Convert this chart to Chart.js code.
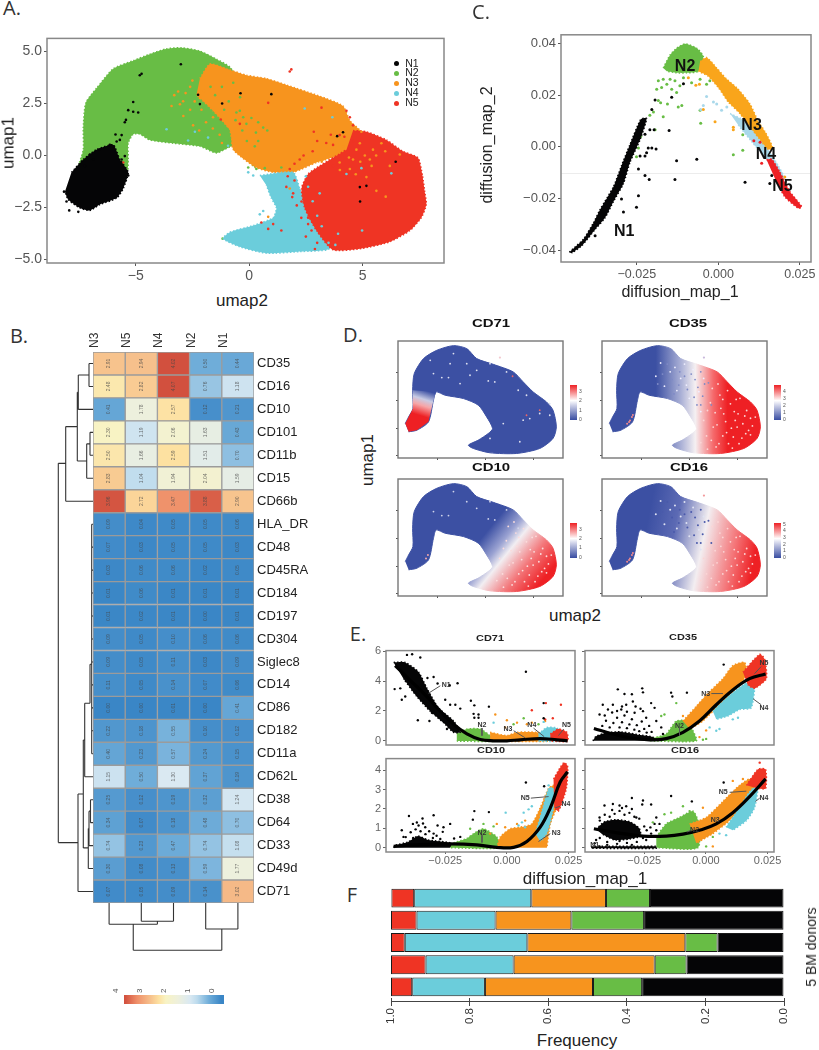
<!DOCTYPE html>
<html>
<head>
<meta charset="utf-8">
<style>
  html, body { margin: 0; padding: 0; background: #fff; }
  #page { position: relative; width: 819px; height: 1050px; overflow: hidden; }
  #page canvas { position: absolute; }
  .txt { position: absolute; white-space: nowrap; font-family: "Liberation Sans", sans-serif; color: #222; line-height: 1; }
  .dot { position: absolute; width: 5px; height: 5px; border-radius: 50%; }
</style>
<script src="https://cdn.jsdelivr.net/npm/chart.js@4"></script>
</head>
<body>
<div id="page"></div>
<script>
const BLACK = '#050506', GREEN = '#68bd45', ORANGE = '#f7941e', CYAN = '#6bcddb', RED = '#ef3424';
const clusterNames = ['N1', 'N2', 'N3', 'N4', 'N5'];

// ---- panel A: umap, cluster outlines and stray cells
const umapGreen = [[-7.53,-0.5],[-7.31,0.28],[-7.31,1.37],[-7.2,2.53],[-6.73,3.23],[-5.99,4.17],[-5.11,4.56],[-4.38,4.87],[-3.64,5.13],[-2.98,5.18],[-2.17,5.02],[-1.44,4.63],[-0.85,4.25],[0.2,2.5],[-0.1,1],[0.3,-0.6],[-0.7,0.44],[-1.44,0.12],[-2.17,0.44],[-3.35,0.59],[-4.38,0.75],[-4.82,1.03],[-5.11,1.03],[-5.33,0.59],[-5.33,-0.19],[-5.4,-0.81],[-6.5,-1]];
const umapOrange = [[-2.17,3.7],[-1.73,4.4],[-1,4.17],[-0.12,3.86],[0.76,3.7],[1.64,3.39],[3.11,2.85],[4.14,2.38],[4.44,1.68],[5.02,1.06],[5.17,0.44],[2.97,-0.34],[1.94,-0.81],[1.06,-0.81],[0.32,-0.58],[-0.7,0.28],[-0.85,1.21],[-1.59,2.15],[-2.32,2.92]];
const umapCyan = [[0.47,-0.96],[1.94,-0.81],[2.23,-1.59],[2.67,-2.83],[3.55,-4.46],[2.23,-4.62],[0.76,-4.7],[-0.41,-4.39],[-1.15,-4],[-0.85,-3.69],[0.18,-3.37],[1.06,-2.99],[1.2,-2.52],[0.98,-2.05],[0.76,-1.43]];
const umapRed = [[4.58,1.2],[5.17,1.14],[6.05,0.75],[6.78,0.2],[7.44,-0.11],[7.64,-0.96],[7.74,-1.74],[7.81,-2.36],[7.59,-2.99],[7.08,-3.61],[6.2,-4.15],[5.02,-4.46],[3.7,-4.54],[2.97,-3.61],[2.45,-2.52],[2.31,-1.59],[2.6,-0.89],[3.11,-0.5],[4.29,0.28]];
const umapBlack = [[-7.83,-0.81],[-7.31,-0.19],[-6.73,0.28],[-5.99,0.51],[-5.7,-0.19],[-5.33,-0.81],[-5.55,-1.59],[-5.84,-2.05],[-6.58,-2.36],[-7.02,-2.64],[-7.46,-2.52],[-7.97,-2.13],[-8.12,-1.74]];
const umapBlackDots = [[-3.01,4.39],[-4.74,3.93],[-4.82,3.86],[-5.11,2.57],[-5.33,2.18],[-5.11,2.1],[-4.89,2.07],[-5.43,1.71],[-5.48,1.6],[-5.62,0.98],[-5.89,1.01],[-2.25,2.92],[-2.17,2.47],[-1.19,2.5],[-0.38,2.99],[0.98,2.95],[3.88,0.93],[4.14,1.12],[6.46,-0.3],[4.88,-1.52],[5.17,-1.46],[4.89,-2.21],[-7.93,-2.64],[-7.53,-2.71],[-8.16,-1.74],[-8.05,-2.21],[-7.02,0.05],[-6.58,0.28],[-6.14,0.51],[-5.84,0.67],[-5.7,0.75],[-5.99,0.44],[-5.48,-0.03],[-6.87,-0.19],[-7.24,-0.5],[-5.4,-0.81],[-5.33,-0.96],[-5.62,-0.19]];
const umapRedDots = [[1.86,4.14],[1.79,4.04],[-0.41,1.52],[-1.25,1.73],[2.85,1.14],[0.84,-3.53],[1.06,-3.3],[0.54,-3.22],[1.42,-3.61],[-5.55,-0.34],[-5.55,-1.28],[-5.84,-1.82],[-5.82,-1.59],[0.84,2.53],[3.19,2.3],[1.64,-1.51],[1.94,-1.82],[2.31,-2.21],[2.6,-2.99],[2.75,-3.61],[3.7,0.51],[3.99,0.98],[4.29,2.15],[4.44,1.84],[4.58,1.45],[4.8,1.14],[3.7,-0.5],[2.23,-0.19],[1.79,-0.65],[3.4,0.6],[2.8,0.2],[2.4,0],[2,-0.4],[3,0.7],[4.2,0.9],[4.6,0.7],[3.6,1],[2,-1.2],[1.7,-1],[2.1,-2.4],[2.3,-3],[2.6,-3.3],[3,-4.2],[2.9,-4.5],[2.5,-3.9],[1.9,-2]];
const umapCyanDots = [[-3.64,1.26],[-2.69,0.72],[-2.39,1.14],[-1.81,0.86],[-0.93,0.47],[4.98,-3.61],[4.95,-0.61],[4.29,-0.89],[6.27,-0.86],[3.11,-1.82],[2.45,2.26],[3.67,1.84],[0.62,-2.67],[0.47,-2.83],[3.92,-3.76],[0.18,-0.96],[-0.04,-0.81],[2.6,-1.5],[2.8,-2.2],[3,-2.9],[3.2,-3.4],[3.5,-4.2],[3.8,-4.3],[2.5,-1]];
const umapGreenDots = [[-0.19,-3.58],[-1.17,-4],[-6.7,-0.5],[-0.41,2.15],[-0.56,2.07],[0.25,0.44],[0.4,1.6],[0.62,1.34],[-0.12,1.52],[-0.26,1.84],[-0.04,-0.58],[0.32,-0.65],[0.69,-0.61],[1.42,-0.58],[-0.85,0.75],[-0.93,1.21],[-0.7,3.5],[-1.2,3.3],[-1.5,2.9],[-0.9,2.6],[-1.1,2.2],[-0.6,1.7],[-0.3,1.2],[0.1,1.8],[0.3,1.1],[0.4,0.7],[-0.1,0.7],[0.8,1.2],[-1.7,3.3],[-0.4,2.8]];
const umapOrangeDots = [[-2.47,1.45],[-3.13,3.08],[-2.91,2.61],[-3.42,2.38],[-1.59,1.84],[5.61,-1.7],[6.02,-1.98],[5.17,-1.04],[4.58,-0.19],[3.99,-0.34],[4.44,-0.65],[0.84,-2.95],[1.79,-1.59],[4.14,0.44],[4.73,0.28],[2.53,-0.19],[3.26,-0.19],[5.32,-0.19],[5.46,0.28],[5.83,0.59],[6.64,0.05],[-2.17,2.77],[4.95,1.14],[4.88,0.59],[-3.05,2.46],[-2.6,3.3],[-2.8,3],[-3.3,2.9],[-2.6,2.2],[-2.9,1.9],[-2.1,2.2],[-1.9,1.6],[-2.2,1.2],[-1.6,1.3],[-1.3,1],[-1.2,0.6],[-2.4,2.6],[-2,3.1],[-2.5,3.6],[3.5,0.1],[3.9,0.2],[4.4,-0.1],[4.9,-0.3],[5.4,-0.5],[3.2,-0.3],[5.6,0],[6,0.2],[4.7,-0.9],[5.1,0],[6.2,-0.5],[4,-0.7]];

// ---- panel C: diffusion map
const dmBlack = [[-0.0457,-0.0407],[-0.0414,-0.0357],[-0.0383,-0.0294],[-0.0363,-0.0243],[-0.0322,-0.0155],[-0.0297,-0.0073],[-0.0271,0.0009],[-0.0238,0.0106],[-0.022,0.011],[-0.024,0.0028],[-0.0271,-0.006],[-0.0291,-0.0142],[-0.0322,-0.0212],[-0.0348,-0.0275],[-0.0378,-0.0319],[-0.0419,-0.0382],[-0.045,-0.0411]];
const dmBlackDots = [[-0.0107,0.0244],[-0.0143,0.0192],[-0.0194,0.0181],[-0.0204,0.0144],[-0.0151,0.0063],[-0.021,0.0066],[-0.0197,0.0066],[-0.0225,0.0049],[-0.0215,-0.0004],[-0.0204,-0.0004],[-0.0191,-0.0008],[-0.022,-0.0023],[-0.024,-0.0035],[-0.0225,-0.0035],[-0.0128,-0.0054],[-0.0066,-0.0048],[-0.0245,-0.0086],[-0.0225,-0.0111],[-0.0212,-0.0126],[-0.0133,-0.0126],[-0.0245,-0.0189],[-0.0297,-0.0202],[-0.0251,-0.0233],[-0.0291,-0.0252],[0.0082,-0.0137],[0.0158,-0.0142],[0.0164,-0.0111],[-0.0378,-0.0344],[-0.0312,-0.0174]];
const dmGreen = [[-0.0169,0.0305],[-0.0148,0.0355],[-0.0128,0.0381],[-0.0102,0.0398],[-0.0066,0.0381],[-0.0046,0.0349],[-0.0061,0.0292],[-0.0097,0.0286],[-0.0128,0.0286],[-0.0158,0.0292]];
const dmGreenDots = [[-0.0184,0.0255],[-0.0169,0.0261],[-0.0174,0.0229],[-0.0189,0.0223],[-0.0158,0.0242],[-0.0143,0.0223],[-0.0128,0.021],[-0.0118,0.0236],[-0.0148,0.0261],[-0.0133,0.0255],[-0.0107,0.0267],[-0.0082,0.0248],[-0.0056,0.0261],[-0.0036,0.0242],[-0.0026,0.0255],[-0.0156,0.0166],[-0.0112,0.016],[-0.0123,0.0154],[-0.0169,0.0116],[-0.0194,0.0066],[-0.021,0.0122],[-0.0199,0.0135],[-0.0184,0.0179],[-0.0177,0.017],[-0.0054,0.0091],[-0.0056,0.0141],[0.0075,0.0047],[0.0075,-0.0013],[0.0046,-0.0031],[-0.0245,-0.0004],[-0.0251,-0.0038],[-0.0274,-0.0033],[-0.0266,0.0015],[-0.0238,0.004],[-0.0317,-0.0159]];
const dmOrange = [[-0.0056,0.033],[-0.0036,0.0345],[-0.0005,0.0305],[0.0026,0.0261],[0.0056,0.0229],[0.0097,0.0166],[0.0123,0.0097],[0.0143,0.0059],[0.0167,-0.0004],[0.0153,-0.001],[0.0128,0.0028],[0.0097,0.0078],[0.0066,0.0129],[0.0031,0.0173],[0,0.0229],[-0.0031,0.0273],[-0.0061,0.0292]];
const dmOrangeDots = [[-0.0092,0.0267],[-0.0069,0.0238],[-0.0058,0.0242],[-0.0046,0.0144],[-0.001,0.0097],[0.0046,0.0066],[0.0046,0.0076],[0.0204,-0.0117]];
const dmCyan = [[0.0036,0.0129],[0.0077,0.0103],[0.0118,0.0053],[0.0153,-0.001],[0.0184,-0.0073],[0.0204,-0.0123],[0.0184,-0.0111],[0.0148,-0.0048],[0.0102,0.0021],[0.0061,0.0084]];
const dmCyanDots = [[-0.0036,0.0195],[-0.0046,0.016],[-0.0015,0.0173],[-0.0005,0.0166],[0.0026,0.0154],[0.0031,0.0179],[-0.0054,0.0144],[0.001,0.0141]];
const dmRed = [[0.0148,-0.005],[0.0164,-0.0048],[0.0189,-0.0098],[0.022,-0.0174],[0.0256,-0.0231],[0.0245,-0.0237],[0.0204,-0.0193],[0.0174,-0.0123]];
const dmRedDots = [[0.0109,0.0024],[0.0128,0.0018],[0.0133,-0.0063]];
const dmLabels = [[-0.0289,-0.0329,'N1'],[-0.0102,0.0311,'N2'],[0.0102,0.0082,'N3'],[0.0146,-0.0029,'N4'],[0.0197,-0.0152,'N5']];
const dmGuide = [[-0.0483,-0.0103],[0.0284,-0.0103]];

// ---- panel B: heatmap
const heatCols = ['N3', 'N5', 'N4', 'N2', 'N1'];
const heatRows = ['CD35','CD16','CD10','CD101','CD11b','CD15','CD66b','HLA_DR','CD48','CD45RA','CD184','CD197','CD304','Siglec8','CD14','CD86','CD182','CD11a','CD62L','CD38','CD64','CD33','CD49d','CD71'];
const heatValues = [
  [2.91,2.94,4.02,0.50,0.44],[2.48,2.82,4.07,0.76,1.18],[0.41,1.78,2.57,0.12,0.21],[2.30,1.19,2.06,1.63,0.43],
  [2.50,1.66,2.59,1.51,0.70],[2.83,1.04,1.94,2.04,1.59],[3.96,2.72,3.47,3.88,2.90],[0.09,0.04,0.05,0.05,0.06],
  [0.07,0.03,0.05,0.05,0.03],[0.03,0.06,0.06,0.02,0.05],[0.01,0.06,0.01,0.01,0.01],[0.01,0.02,0.01,0.00,0.01],
  [0.09,0.05,0.10,0.06,0.06],[0.09,0.05,0.11,0.03,0.09],[0.11,0.05,0.14,0.07,0.06],[0.00,0.00,0.01,0.00,0.41],
  [0.22,0.18,0.55,0.10,0.12],[0.40,0.23,0.57,0.24,0.15],[1.15,0.50,1.30,0.37,0.19],[0.25,0.12,0.19,0.32,1.24],
  [0.34,0.07,0.18,0.48,0.70],[0.74,0.23,0.47,0.74,1.08],[0.30,0.08,0.13,0.59,1.77],[0.07,0.05,0.09,0.14,3.02]
];
const heatStops = [[0,[58,134,198]],[0.5,[111,173,217]],[1,[189,219,237]],[1.3,[218,233,242]],[1.8,[238,240,220]],[2.3,[248,243,196]],[2.6,[253,224,160]],[2.9,[247,196,142]],[3.5,[239,143,105]],[4,[210,80,62]]];
const heatLegendTicks = [4, 3, 2, 1, 0];
const rowTree = [[0,0.5,4,0.5],[0,1.5,4,1.5],[4,0.5,4,1.5],[4,1,14.7,1],[0,2.5,14.7,2.5],[14.7,1,14.7,2.5],[0,3.5,3,3.5],[0,4.5,3,4.5],[3,3.5,3,4.5],[3,4,6.3,4],[0,5.5,6.3,5.5],[6.3,4,6.3,5.5],[14.7,1.75,15.7,1.75],[6.3,4.75,15.7,4.75],[15.7,1.75,15.7,4.75],[15.7,3.25,27.3,3.25],[0,6.5,27.3,6.5],[27.3,3.25,27.3,6.5],[27.3,4.85,34.7,4.85],
  [1.3,7.5,1.3,17.5],[0,7.5,1.3,7.5],[0,8.5,1.3,8.5],[0,9.5,1.3,9.5],[0,10.5,1.3,10.5],[0,11.5,1.3,11.5],[0,12.5,1.3,12.5],[0,13.5,1.3,13.5],[0,14.5,1.3,14.5],[0,15.5,1.3,15.5],[0,16.5,1.3,16.5],[0,17.5,1.3,17.5],[1.3,13.6,3,13.6],[3,13.6,3,15.3],[3,15.3,8.3,15.3],[0,18.5,8.3,18.5],[8.3,15.3,8.3,18.5],[8.3,16.9,9.7,16.9],
  [0,19.5,2.5,19.5],[0,20.5,2.5,20.5],[2.5,19.5,2.5,20.5],[2.5,20,4,20],[0,21.5,4,21.5],[4,20,4,21.5],[4,20.75,4.7,20.75],[0,22.5,4.7,22.5],[4.7,20.75,4.7,22.5],[4.7,21.6,9.7,21.6],[9.7,16.9,9.7,21.6],[9.7,19.25,15,19.25],[0,23.5,15,23.5],[15,19.25,15,23.5],[15,21.37,34.7,21.37],[34.7,4.85,34.7,21.37]];
const colTree = [[0.5,0,0.5,21.3],[1.5,0,1.5,18.3],[2.5,0,2.5,18.3],[1.5,18.3,2.5,18.3],[2,18.3,2,21.3],[0.5,21.3,2,21.3],[3.5,0,3.5,26],[4.5,0,4.5,26],[3.5,26,4.5,26],[1.25,21.3,1.25,47.3],[4,26,4,47.3],[1.25,47.3,4,47.3]];

// ---- panel D: marker expression on the umap
const shapeOutline = [[-8.37,-2.08],[-8.02,-1.48],[-7.57,-0.72],[-7.6,0.93],[-7.43,2.44],[-6.46,3.8],[-5.07,4.55],[-3.33,4.97],[-1.94,4.7],[-0.9,3.8],[0.83,3.28],[2.92,2.59],[3.96,1.69],[5,0.78],[6.39,-0.12],[7.08,-0.87],[7.43,-2.38],[7.08,-3.43],[5.69,-4.34],[3.26,-4.79],[0.49,-4.73],[-1.25,-4.34],[-1.77,-4.04],[-0.73,-3.58],[0.31,-2.98],[0.76,-2.53],[0.14,-1.48],[-0.73,-0.42],[-2.29,0.18],[-4.2,0.48],[-5.14,0.78],[-5.42,0.03],[-5.94,-1.93],[-7.15,-2.68],[-8.02,-2.83]];
const tailOutline = [[-7.6,0.93],[-5.14,0.78],[-5.42,0.03],[-5.94,-1.93],[-7.15,-2.68],[-8.02,-2.83],[-8.37,-2.08],[-8.02,-1.48],[-7.57,-0.72]];
const blueZoneSpecks = [[-3.33,4.25],[-5.42,2.44],[-4.55,2.08],[-3.85,2.08],[-1.94,3.34],[-0.9,2.74],[0.49,3.34],[0.31,1.78],[0.99,1.69],[2.22,2.59],[3.44,0.93],[4.31,0.48],[5.69,-1.17],[4.65,-1.63],[3.96,-1.78],[6.74,-0.27],[6.74,-1.33],[1.88,-2.08],[3.61,-3.73],[0.49,-3.43],[-2.64,1.54],[-5.76,3.64],[-3.68,3.34],[-1.6,2.29]];
const redZoneSpecks = [[3.2,0.5],[4.3,-0.3],[5.1,-1.2],[6,-0.9],[4.4,-2.5],[5.5,-3.4],[3.5,-3.2],[6.6,-2.3],[2.7,-1.1],[3.8,-1.9],[2.3,-3.6],[1.9,-0.9],[4.9,0.1],[3,1.5],[5.6,-2.1],[4.1,-3.9],[2.8,-4.2],[6.9,-1.5],[2.4,1.1],[3.3,-0.7],[5.3,0.2],[6.4,-1.6],[4.7,-1],[3.5,0.1],[2.9,-2.2],[3.1,-3.9],[4.6,-3.3],[5.9,-3],[6.4,-3.1],[5,-2.4],[3.9,-2.9],[2.5,-2.4],[1.5,-1.8],[1.8,-3.2],[1.2,-3.8],[1.9,-4.4],[4.5,-4.3],[5.2,-3.9],[4,0.9],[3.6,-1.2],[2.2,-0.2],[5.8,-1.4],[4.8,-1.8],[6.2,-2.7]];
const midZoneSpecks = [[-1.5,3],[-0.9,2],[-2,2.6],[-0.3,1.4],[-2.6,1.3],[-1.3,0.9],[0.4,2.8],[1,0.8],[0,0.2],[1.2,-1],[-3,3.4],[-3.5,2.2],[-0.5,3.3],[1.5,2]];
const midBlueSpecks = [[-1,2.6],[-0.5,2.2],[-1.8,1.9],[0.2,2.4],[0.6,1.9],[-0.2,1],[-1.1,1.4],[0.9,1.2],[1.2,2.6],[1.6,1.5],[0.5,0.3],[1.4,0.4],[1.2,-0.4],[-2.3,3.3],[-2.8,2.4],[-3.3,1.5],[-1.6,0.6],[0.8,-0.4],[2,1.6],[2.3,-0.4]];
const tailPink = [[-6,-1.5],[-6.2,-1.8],[-6.5,-2.1],[-5.9,-1.3],[-6.3,-1.95]];
const cd71RedSpecks = [[2.85,2.2],[4.31,-1.33],[5.69,-0.87]];
const paleOutlier = [[1.53,3.89]];
const cdTicksX = [-5, 0, 5], cdTicksY = [-5, -2.5, 0, 2.5];
const BLUE_LOW = '#3c50a3', RED_HIGH = '#ee2024';
const cd35Ramp = [[0,BLUE_LOW],[0.35,'#aab0d6'],[0.55,'#f5f0f2'],[0.8,'#f56a6c'],[1,RED_HIGH]];
const cd10Ramp = [[0,BLUE_LOW],[0.25,'#9aa2d2'],[0.4,'#f2eef2'],[0.7,'#f3777a'],[1,RED_HIGH]];
const cd16Ramp = [[0,BLUE_LOW],[0.25,'#5c6ab4'],[0.52,'#f3eef1'],[0.8,'#f4777a'],[1,RED_HIGH]];
const tailRamp = [[0,BLUE_LOW],[0.35,'#c8cbe4'],[0.6,'#f6a6a8'],[1,RED_HIGH]];
const barRamp = [[0,BLUE_LOW],[0.4,'#c9cde6'],[0.55,'#ffffff'],[1,RED_HIGH]];
const cd71BarTicks = [0,1,2,3], cd35BarTicks = [0,1,2,3,4], cd10BarTicks = [0,1,2,3], cd16BarTicks = [0,1,2,3,4,5];

// ---- panel E: marker along diffusion_map_1
const e71Black = [[-0.0459,5.26],[-0.0412,5.26],[-0.0358,4.61],[-0.0324,3.52],[-0.0277,2.21],[-0.0216,1.33],[-0.0189,0.57],[-0.0216,0.57],[-0.0257,1.22],[-0.0311,1.99],[-0.0365,2.97],[-0.0419,4.17]];
const e71BlackDots = [[-0.0405,5.76],[-0.0384,5.81],[-0.0351,5.59],[-0.0455,3.47],[-0.0432,3.52],[-0.0412,2.97],[-0.0426,2.75],[-0.0351,3.73],[-0.0322,4.21],[-0.0297,4.28],[-0.0281,3.84],[-0.02,3.86],[-0.0232,3.73],[-0.025,2.75],[-0.023,2.42],[-0.0209,2.42],[-0.0189,2.16],[-0.0361,1.38],[-0.0314,1.33],[-0.0304,1.88],[-0.0146,2.69],[-0.0132,2.38],[-0.0073,2.29],[-0.0135,1.81],[-0.0115,1.77],[-0.0132,1.55],[-0.0115,1.55],[0.0077,4.63],[0.0149,2.53],[0.0149,1.51],[-0.0243,0.79],[-0.0203,0.79]];
const e71Green = [[-0.0203,0.46],[-0.0162,0.79],[-0.0108,0.79],[-0.0068,0.35],[-0.0041,-0.02],[-0.0203,-0.02]];
const e71GreenDots = [[0.0068,1.51],[0.0027,1.11],[0.0128,1.11]];
const e71Orange = [[-0.0068,0.57],[0,0.35],[0.0041,0.57],[0.0122,0.57],[0.0176,0.35],[0.0176,-0.02],[-0.0068,-0.02]];
const e71OrangeDots = [[-0.0047,1.77],[0,1.38],[0.0041,1.22],[0.0081,1.11],[0.0101,1.22],[0.0155,1.33],[-0.0007,0.9]];
const e71Cyan = [[0.0128,0.46],[0.0162,0.9],[0.0203,0.85],[0.0216,0.35],[0.0203,-0.02],[0.0128,-0.02]];
const e71CyanDots = [[-0.0054,1.22],[0.0149,1.27]];
const e71Red = [[0.0176,0.46],[0.0209,0.79],[0.0243,0.57],[0.0246,-0.02],[0.0176,-0.02]];
const e71RedDots = [[0.0101,2.05],[0.0158,2.53],[0.0219,2.42],[0.0155,1.44],[0.0186,1.51]];
const e71Curve = [[-0.0453,5.04],[-0.0392,4.06],[-0.0331,3.08],[-0.027,1.99],[-0.0216,1.11],[-0.0162,0.46],[-0.0108,0.09],[-0.0054,0],[0,0],[0.0054,0.07],[0.0135,0.15],[0.0203,0.07],[0.0246,0]];
const e71Notes = [[-0.0246,3.73,'N1'],[-0.0101,1.05,'N2'],[0.0004,0.81,'N3'],[0.0101,1.05,'N4'],[0.0241,1.05,'N5']];
const e71Arrows = [[-0.027,3.69,-0.0318,3.19],[-0.0101,0.85,-0.0101,0.35],[0.0027,0.68,0.0074,0.2],[0.0108,0.85,0.0151,0.28],[0.023,0.79,0.0209,0.35]];

const e35Black = [[-0.0458,0],[-0.0445,0.3],[-0.04,0.55],[-0.034,0.6],[-0.027,0.4],[-0.0215,0.25],[-0.0195,0]];
const e35BlackDots = [[-0.0357,3.45],[-0.033,3.14],[-0.03,3.12],[-0.0258,3.52],[-0.0255,3.25],[-0.0222,2.53],[-0.0296,2.64],[-0.0323,2.42],[-0.0377,2.42],[-0.0418,2.42],[-0.0141,3.23],[-0.0136,2.97],[-0.0077,3.23],[0.0072,5.11],[-0.0208,2.21],[-0.0255,1.99],[-0.0343,2.1],[-0.0397,2.1],[-0.0431,1.77],[-0.0201,1.33],[-0.0181,0.9],[-0.0174,0.46],[-0.0242,1.55],[-0.0289,1.88],[-0.042,1],[-0.0405,1.35],[-0.039,0.9],[-0.0375,1.2],[-0.036,1.55],[-0.035,0.9],[-0.034,1.25],[-0.033,1.7],[-0.032,0.85],[-0.031,1.1],[-0.03,1.45],[-0.029,0.75],[-0.028,1.05],[-0.027,0.65],[-0.026,1.3],[-0.025,0.8],[-0.024,0.55],[-0.023,1],[-0.022,0.6],[-0.038,1.9],[-0.036,2],[-0.034,2.3],[-0.041,1.7],[-0.032,1.95],[-0.0285,2.3],[-0.0265,2.15]];
const e35Green = [[-0.0228,0.13],[-0.0161,0.46],[-0.012,1.33],[-0.0073,1.33],[-0.0059,0.9],[-0.0039,0],[-0.0228,0]];
const e35GreenDots = [[-0.0181,1.66],[-0.0168,1.77],[-0.012,2.53],[-0.0012,0.07],[0.0001,0.13]];
const e35Orange = [[-0.0093,1.33],[-0.0039,2.31],[0.0015,3.3],[0.0069,4.17],[0.0109,5.04],[0.0157,5.26],[0.0164,4.39],[0.0109,3.3],[0.0042,2.21],[-0.0012,1.33],[-0.0066,0.79]];
const e35OrangeDots = [[-0.0026,0.25],[-0.0093,1.66],[0.0001,0.7],[0.0135,5.1]];
const e35Cyan = [[0.0028,1.99],[0.0082,2.86],[0.015,3.73],[0.0197,4.06],[0.0184,2.21],[0.0136,2.1],[0.0089,1.66],[0.0042,1.44]];
const e35CyanDots = [[0.0042,0.68],[0.0055,0.79],[0.0109,1.44],[0.013,1.55],[0.0015,0.9]];
const e35Red = [[0.015,4.61],[0.0218,5.81],[0.0238,5.48],[0.0245,4.17],[0.0197,3.52],[0.017,3.73]];
const e35Curve = [[-0.0454,0.83],[-0.0377,0.46],[-0.0296,0.17],[-0.0228,0.07],[-0.0161,0.15],[-0.0093,0.57],[-0.0026,1.33],[0.0042,2.42],[0.0109,3.41],[0.0177,4.17],[0.0242,4.48]];
const e35Notes = [[-0.0001,3.14,'N3'],[0.0235,2.21,'N4'],[0.0235,5.2,'N5'],[-0.0107,1,'N2']];
const e35Arrows = [[0.0022,3.17,0.0069,3.17],[0.0224,2.42,0.0191,2.82],[0.0224,4.98,0.0197,4.5],[-0.0107,0.85,-0.0107,0.35]];

const e10Black = [[-0.0459,0],[-0.0453,0.12],[-0.04,0.3],[-0.036,0.6],[-0.032,0.4],[-0.023,0.25],[-0.023,0]];
const e10BlackDots = [[-0.0397,1.64],[-0.0342,1.51],[-0.0297,1.68],[-0.0381,1.23],[-0.0331,1.06],[-0.0358,1.15],[-0.0419,0.56],[-0.0426,0.9],[-0.0257,1.06],[-0.023,1.23],[-0.0281,1.15],[-0.0297,0.73],[-0.0189,0.56],[-0.0214,0.48],[-0.0132,1.89],[-0.0073,1.84],[-0.0138,1.45],[0.0077,3.37],[0.0151,3.17],[-0.041,0.55],[-0.039,0.8],[-0.037,0.95],[-0.035,0.85],[-0.034,1.25],[-0.033,0.7],[-0.0315,0.85],[-0.03,0.5],[-0.0285,0.62],[-0.027,0.45],[-0.038,0.5],[-0.0365,1.3],[-0.026,0.82]];
const e10Green = [[-0.023,0.2],[-0.0162,0.48],[-0.0135,0.73],[-0.0095,0.98],[-0.0041,0.56],[-0.0027,0],[-0.023,0]];
const e10GreenDots = [[-0.0054,1.1],[-0.0095,1.23],[-0.0149,0.98]];
const e10Orange = [[-0.0041,0],[-0.0027,0.56],[0.0014,0.98],[0.0054,1.06],[0.0101,1.23],[0.0135,2.06],[0.0169,3.06],[0.0192,3.22],[0.0209,2.39],[0.0176,1.23],[0.0162,0]];
const e10OrangeDots = [[-0.0041,1.23],[-0.0007,1.06],[0.0041,1.23],[0.0074,1.4],[-0.0068,0.73]];
const e10Cyan = [[0.0115,0.73],[0.0142,1.89],[0.0169,3.06],[0.0189,3.06],[0.0189,2.06],[0.0162,0.73],[0.0135,0.32]];
const e10CyanDots = [[0.0068,1.81],[0.0088,1.98],[0.0101,2.14],[0.0047,1.15],[0.0061,1.31],[0.0074,1.06],[-0.0005,1.81],[0.0169,3.22]];
const e10Red = [[0.0189,3.55],[0.023,4.39],[0.0246,4.22],[0.0241,3.06],[0.0209,1.89],[0.0192,2.06]];
const e10Curve = [[-0.0459,0.07],[-0.0365,0.15],[-0.023,0.2],[-0.0122,0.15],[-0.0041,0.02],[0.0027,0.02],[0.0081,0.32],[0.0135,1.06],[0.0176,2.06],[0.0216,3.39],[0.0246,3.92]];
const e10Notes = [[0.0074,2.54,'N5'],[0.0239,2.23,'N4'],[0.02,0.76,'N3'],[-0.0101,0.78,'N2']];
const e10Arrows = [[0.0097,2.56,0.0169,2.64],[0.0216,2.14,0.0196,2.06],[0.0176,0.73,0.0128,0.32],[-0.0101,0.65,-0.0101,0.27]];

const e16Black = [[-0.0445,0.95],[-0.041,1.35],[-0.036,1.45],[-0.031,1.35],[-0.027,1],[-0.0265,0.6],[-0.031,0.45],[-0.037,0.4],[-0.042,0.7]];
const e16BlackLine = [[-0.0465,0.07],[-0.0201,0.07],[-0.0201,-0.03],[-0.0465,-0.03]];
const e16BlackDots = [[-0.03,2.57],[-0.0255,2.44],[-0.0258,2.23],[-0.0222,2.23],[-0.0141,2.67],[0.0072,3.37],[-0.0057,2.39],[-0.0411,2.18],[-0.0377,2.26],[-0.035,2.18],[-0.0323,2.14],[-0.0431,1.56],[-0.0201,1.56],[-0.0208,1.23],[-0.0188,1.23],[-0.0222,0.73],[-0.0451,0.23],[-0.0431,0.07],[-0.0201,0.9],[-0.0282,1.56],[-0.0242,0.4],[-0.043,1.4],[-0.041,1.7],[-0.039,1.6],[-0.037,1.75],[-0.035,1.9],[-0.033,1.7],[-0.031,1.8],[-0.029,1.6],[-0.027,1.5],[-0.025,1.1],[-0.024,0.9],[-0.0255,0.5],[-0.028,0.3],[-0.032,0.25],[-0.036,0.2],[-0.04,0.3],[-0.043,0.5],[-0.0445,0.4],[-0.04,0.15],[-0.035,0.35],[-0.03,0.15],[-0.038,1.95],[-0.034,2.05],[-0.03,2],[-0.0225,1.05]];
const e16Green = [[-0.0201,0.56],[-0.0161,1.23],[-0.0107,1.56],[-0.0053,1.89],[-0.0032,1.4],[-0.0032,0],[-0.0201,0]];
const e16GreenDots = [[-0.0141,1.81],[-0.0168,1.73],[-0.0093,2.14],[-0.0066,1.89],[-0.0215,1.31],[0.0001,0.07],[0.0028,0.56]];
const e16Orange = [[-0.0066,1.23],[0.0001,1.56],[0.0069,2.39],[0.0136,3.22],[0.0177,3.55],[0.0204,3.39],[0.0164,2.39],[0.0096,1.4],[0.0028,0.73],[-0.0039,0.23]];
const e16OrangeDots = [[0.0028,0.07],[0.015,3.55],[-0.0012,2.06],[0.0109,3.45]];
const e16Cyan = [[0.0082,1.06],[0.0136,2.06],[0.0177,2.89],[0.0211,3.22],[0.0197,2.06],[0.0164,1.4],[0.0109,0.9]];
const e16CyanDots = [[0.0082,0.65],[0.0055,0.73]];
const e16Red = [[0.0164,3.22],[0.0211,4.05],[0.0242,4.05],[0.0242,3.06],[0.0211,3.06]];
const e16RedDots = [[0.0218,4.39]];
const e16Curve = [[-0.0454,0.98],[-0.0364,0.78],[-0.0255,0.6],[-0.0161,0.6],[-0.0093,0.7],[-0.0026,0.9],[0.0042,1.23],[0.0109,1.81],[0.0177,2.64],[0.0242,3.55]];
const e16Notes = [[0.007,2.86,'N5'],[0.0235,2.56,'N4'],[0.0038,1.45,'N3'],[-0.0046,0.93,'N2'],[-0.0451,0.15,'N1']];
const e16Arrows = [[0.0096,2.86,0.0164,2.92],[0.0218,2.56,0.0201,2.39],[-0.0061,0.9,-0.0077,0.81]];

// ---- panel F: cluster frequency per donor, stacked from the right
const donors = ['BM1', 'BM2', 'BM3', 'BM4', 'BM5'];
const freqN1 = [0.341, 0.356, 0.169, 0.248, 0.361];
const freqN2 = [0.112, 0.185, 0.082, 0.081, 0.125];
const freqN3 = [0.190, 0.193, 0.402, 0.359, 0.275];
const freqN4 = [0.298, 0.201, 0.312, 0.224, 0.185];
const freqN5 = [0.058, 0.065, 0.035, 0.088, 0.054];
const freqTicks = [1, 0.8, 0.6, 0.4, 0.2, 0];

Chart.defaults.font.family = '"Liberation Sans", Arial, sans-serif';
Chart.defaults.animation = false;
Chart.defaults.responsive = false;
Chart.defaults.events = [];
Chart.defaults.plugins.legend.display = false;
Chart.defaults.plugins.tooltip.enabled = false;

const page = document.getElementById('page');
const minus = v => String(v).replace('-', '\u2212');

// put a chart with its plot area exactly on x0..x1 / y0..y1
// m = [left, top, right, bottom]: room around the plot, taken by an axis if one sits on that side
function mount(x0, y0, x1, y1, m, cfg) {
  const c = document.createElement('canvas');
  const [l, t, r, b] = m;
  c.width = x1 - x0 + l + r;
  c.height = y1 - y0 + t + b;
  c.style.left = (x0 - l) + 'px';
  c.style.top = (y0 - t) + 'px';
  page.appendChild(c);
  cfg.options = cfg.options || {};
  cfg.options.maintainAspectRatio = false;
  const room = { left: l, top: t, right: r, bottom: b };
  const scales = cfg.options.scales || {};
  Object.keys(scales).forEach(id => {
    const s = scales[id];
    if (s.display === false) return;
    const side = s.position || (id === 'x' ? 'bottom' : 'left');
    const size = room[side];
    s.afterFit = sc => { if (sc.isHorizontal()) sc.height = size; else sc.width = size; };
    room[side] = 0;
  });
  cfg.options.layout = { autoPadding: false, padding: room };
  return new Chart(c, cfg);
}

function axis(min, max, ticks, fmt, size, extra) {
  return Object.assign({
    type: 'linear', min, max,
    afterBuildTicks: s => { s.ticks = ticks.map(v => ({ value: v })); },
    border: { display: false },
    grid: { drawOnChartArea: false, tickLength: 3, color: '#555' },
    ticks: { callback: fmt, color: '#555', font: { size }, padding: 2, autoSkip: false, maxRotation: 0, minRotation: 0 }
  }, extra || {});
}

const poly = (data, color) => ({ data, showLine: true, fill: 'shape', backgroundColor: color, borderColor: color, borderWidth: 1.5, borderDash: [1.5, 2], tension: 0.2, pointRadius: 0 });
const dots = (data, color, r) => ({ data, showLine: false, backgroundColor: color, borderWidth: 0, pointRadius: r || 1.3 });
const curve = data => ({ data, showLine: true, fill: false, borderColor: '#000', borderWidth: 3.2, tension: 0.4, pointRadius: 0 });
function segments(list, color, width) {
  const data = [];
  list.forEach(s => data.push([s[0], s[1]], [s[2], s[3]], [null, null]));
  return { data, showLine: true, fill: false, spanGaps: false, borderColor: color, borderWidth: width, pointRadius: 0 };
}

const framePlugin = (color, width) => ({ id: 'frame', afterDatasetsDraw(chart) {
  const a = chart.chartArea, g = chart.ctx;
  g.save(); g.strokeStyle = color; g.lineWidth = width;
  g.strokeRect(a.left, a.top, a.right - a.left, a.bottom - a.top);
  g.restore();
} });
const notesPlugin = (items, font, color) => ({ id: 'notes', afterDatasetsDraw(chart) {
  const g = chart.ctx;
  g.save(); g.font = font; g.fillStyle = color; g.textAlign = 'center'; g.textBaseline = 'middle';
  items.forEach(n => g.fillText(n[2], chart.scales.x.getPixelForValue(n[0]), chart.scales.y.getPixelForValue(n[1])));
  g.restore();
} });
// scatter chart where the listed order is also the paint order
function scatter(box, margins, xAxis, yAxis, sets, plugins) {
  return mount(box[0], box[1], box[2], box[3], margins, {
    type: 'scatter',
    data: { datasets: sets.slice().reverse() },
    options: { scales: { x: xAxis, y: yAxis } },
    plugins: plugins || []
  });
}
// gradients need laid out scales, the first call can come before layout
function linearRamp(chart, x0, y0, x1, y1, stops) {
  if (![x0, y0, x1, y1].every(Number.isFinite)) return '#888';
  const g = chart.ctx.createLinearGradient(x0, y0, x1, y1);
  stops.forEach(p => g.addColorStop(p[0], p[1]));
  return g;
}
function rampBetween(from, to, stops) {
  return c => {
    const s = c.chart.scales;
    return linearRamp(c.chart, s.x.getPixelForValue(from[0]), s.y.getPixelForValue(from[1]), s.x.getPixelForValue(to[0]), s.y.getPixelForValue(to[1]), stops);
  };
}
function heatColor(v) {
  let i = 0;
  while (i < heatStops.length - 2 && v > heatStops[i + 1][0]) i++;
  const [a, ca] = heatStops[i], [b, cb] = heatStops[i + 1];
  const t = Math.min(1, Math.max(0, (v - a) / (b - a)));
  return 'rgb(' + ca.map((q, k) => Math.round(q + (cb[k] - q) * t)).join(',') + ')';
}

function text(str, cx, cy, size, o) {
  o = o || {};
  const d = document.createElement('div');
  d.className = 'txt';
  d.textContent = str;
  d.style.left = cx + 'px';
  d.style.top = cy + 'px';
  d.style.fontSize = size + 'px';
  if (o.weight) d.style.fontWeight = o.weight;
  if (o.family) d.style.fontFamily = o.family;
  if (o.color) d.style.color = o.color;
  d.style.transform = 'translate(-50%,-50%)' + (o.rot ? ' rotate(' + o.rot + 'deg)' : '') + (o.sx ? ' scaleX(' + o.sx + ')' : '');
  page.appendChild(d);
}

// ---- A
scatter([47, 32, 444, 263], [46, 4, 4, 26],
  axis(-8.91, 8.59, [-5, 0, 5], minus, 14),
  axis(-5.17, 5.63, [-5, -2.5, 0, 2.5, 5], v => minus(v.toFixed(1)), 14),
  [poly(umapGreen, GREEN), poly(umapOrange, ORANGE), dots(umapGreenDots, GREEN), poly(umapCyan, CYAN), poly(umapRed, RED),
   dots(umapOrangeDots, ORANGE), dots(umapCyanDots, CYAN), dots(umapRedDots, RED), poly(umapBlack, BLACK), dots(umapBlackDots, BLACK)],
  [framePlugin('#888', 1.5)]);

[BLACK, GREEN, ORANGE, CYAN, RED].forEach((col, i) => {
  const d = document.createElement('div');
  d.className = 'dot';
  d.style.left = '394px';
  d.style.top = (61 + i * 9.9) + 'px';
  d.style.background = col;
  page.appendChild(d);
  text(clusterNames[i], 412, 62.5 + i * 9.9, 10.5, { color: '#222' });
});

// ---- C
scatter([561, 29, 811, 262], [46, 4, 8, 24],
  axis(-0.04826, 0.02843, [-0.025, 0, 0.025], v => minus(v.toFixed(3)), 12.5),
  axis(-0.0445, 0.0433, [-0.04, -0.02, 0, 0.02, 0.04], v => minus(v.toFixed(2)), 13),
  [{ data: dmGuide, showLine: true, fill: false, borderColor: '#ececec', borderWidth: 1, pointRadius: 0 },
   poly(dmGreen, GREEN), dots(dmGreenDots, GREEN, 1.5),
   poly(dmCyan, '#a9d8ea'), dots(dmCyanDots, '#a9d8ea', 1.5), poly(dmOrange, '#f9a51b'), dots(dmOrangeDots, '#f9a51b', 1.5),
   poly(dmRed, '#ee2024'), dots(dmRedDots, '#ee2024', 1.5),
   poly(dmBlack, BLACK), dots(dmBlackDots, BLACK, 1.5)],
  [framePlugin('#888', 1.5), notesPlugin(dmLabels, 'bold 16px "Liberation Sans"', '#111')]);

// ---- B heatmap
mount(93, 352, 254, 903, [20, 30, 70, 12], {
  type: 'bar',
  data: {
    labels: heatRows,
    datasets: heatCols.map((name, c) => ({
      label: name,
      data: heatRows.map(() => [c, c + 1]),
      backgroundColor: heatRows.map((_, r) => heatColor(heatValues[r][c])),
      borderColor: '#9b9b9b',
      borderWidth: 1,
      borderSkipped: false,
      grouped: false,
      barPercentage: 1,
      categoryPercentage: 1
    }))
  },
  options: {
    indexAxis: 'y',
    scales: {
      x: axis(0, 5, [0.5, 1.5, 2.5, 3.5, 4.5], v => heatCols[v - 0.5], 12, {
        position: 'top',
        grid: { display: false, drawTicks: false },
        ticks: { callback: v => heatCols[v - 0.5], color: '#333', font: { size: 12 }, padding: 4, autoSkip: false, minRotation: 90, maxRotation: 90 }
      }),
      y: {
        position: 'right',
        border: { display: false },
        grid: { display: false, drawTicks: false },
        ticks: { color: '#222', font: { size: 13 }, padding: 3, autoSkip: false }
      }
    }
  },
  plugins: [{ id: 'cellText', afterDatasetsDraw(chart) {
    const g = chart.ctx;
    g.save();
    g.font = '5px "Liberation Sans"';
    g.fillStyle = 'rgba(70,70,70,0.75)';
    g.textAlign = 'center';
    g.textBaseline = 'middle';
    heatRows.forEach((_, r) => heatCols.forEach((__, c) => {
      g.save();
      g.translate(chart.scales.x.getPixelForValue(c + 0.5), chart.scales.y.getPixelForValue(r));
      g.rotate(-Math.PI / 2);
      g.fillText(heatValues[r][c].toFixed(2), 0, 0);
      g.restore();
    }));
    g.restore();
  } }]
});

// row and column trees
scatter([50, 352, 93, 903], [0, 0, 0, 0],
  { type: 'linear', display: false, min: 0, max: 43, reverse: true },
  { type: 'linear', display: false, min: 0, max: 24, reverse: true },
  [segments(rowTree, '#333', 1.1)]);
scatter([93, 903, 254, 955], [0, 0, 0, 0],
  { type: 'linear', display: false, min: 0, max: 5 },
  { type: 'linear', display: false, min: 0, max: 52, reverse: true },
  [segments(colTree, '#333', 1.1)]);

// heat legend
mount(124, 995, 224, 1004, [24, 16, 24, 2], {
  type: 'bar',
  data: { labels: [''], datasets: [{
    data: [[-0.12, 4.04]],
    borderSkipped: false,
    borderWidth: 0,
    barPercentage: 1,
    categoryPercentage: 1,
    backgroundColor: c => {
      const s = c.chart.scales.x;
      return linearRamp(c.chart, s.getPixelForValue(4), 0, s.getPixelForValue(0), 0,
        heatStops.map(p => [1 - p[0] / 4, 'rgb(' + p[1].join(',') + ')']).reverse());
    }
  }] },
  options: {
    indexAxis: 'y',
    scales: {
      x: axis(-0.12, 4.04, heatLegendTicks, v => v, 8, { reverse: true, position: 'top',
        grid: { drawOnChartArea: false, drawTicks: false },
        ticks: { callback: v => v, color: '#555', font: { size: 8 }, padding: 2, autoSkip: false, minRotation: 90, maxRotation: 90 } }),
      y: { display: false }
    }
  }
});

// ---- D
function markerPanel(box, sets) {
  scatter(box, [4, 4, 4, 6],
    axis(-9.13, 8.125, cdTicksX, () => '', 1, { grid: { drawOnChartArea: false, tickLength: 2, color: '#555' } }),
    axis(-5.2, 5.39, cdTicksY, () => '', 1, { grid: { drawOnChartArea: false, tickLength: 2, color: '#555' } }),
    sets, [framePlugin('#777', 1.4)]);
}
function shapeFill(fill) {
  return { data: shapeOutline, showLine: true, fill: 'shape', backgroundColor: fill, borderColor: fill, borderWidth: 1, tension: 0.25, pointRadius: 0 };
}
markerPanel([398, 341, 563, 458], [
  shapeFill(BLUE_LOW),
  { data: tailOutline, showLine: true, fill: 'shape', backgroundColor: rampBetween([-6.2, 0.9], [-7, -1.3], tailRamp), borderWidth: 0, pointRadius: 0 },
  dots(blueZoneSpecks, '#dfe1f0', 0.9), dots(cd71RedSpecks, '#e66', 0.9), dots(paleOutlier, '#f2c9cf', 1.1)
]);
markerPanel([602, 341, 767, 458], [
  shapeFill(rampBetween([-3.5, 0], [4, 0], cd35Ramp)),
  dots(midZoneSpecks, '#eef', 0.9), dots(midBlueSpecks, '#7f8ac6', 0.9), dots(redZoneSpecks, '#fbd5d5', 0.9), dots(tailPink, '#f58a8c', 1), dots(paleOutlier, '#c9b9dc', 1.1)
]);
markerPanel([398, 479, 563, 596], [
  shapeFill(rampBetween([0.5, 1], [6.5, -3.2], cd10Ramp)),
  dots(blueZoneSpecks.slice(0, 11), '#cfd3ea', 0.9), dots(redZoneSpecks, '#fbdcdc', 0.9), dots(tailPink.slice(0, 2), '#f2a9ab', 1)
]);
markerPanel([602, 479, 767, 596], [
  shapeFill(rampBetween([-4.5, 1], [7, -1], cd16Ramp)),
  dots(midZoneSpecks, '#dfe2f2', 1), dots(midBlueSpecks, '#4a5aab', 1), dots(redZoneSpecks, '#fbd5d5', 0.9), dots(tailPink, '#f58a8c', 1), dots(paleOutlier, '#f39a9c', 1.1)
]);

function colorBar(x, y0, y1, top, ticks) {
  mount(x, y0, x + 7, y1, [0, 3, 12, 3], {
    type: 'bar',
    data: { labels: [''], datasets: [{
      data: [[-0.05, top]], borderWidth: 0, borderSkipped: false, barPercentage: 1, categoryPercentage: 1,
      backgroundColor: c => {
        const s = c.chart.scales.y;
        return linearRamp(c.chart, 0, s.getPixelForValue(0), 0, s.getPixelForValue(top), barRamp);
      }
    }] },
    options: { scales: {
      x: { display: false },
      y: axis(-0.05, top, ticks, v => v, 5, { position: 'right', grid: { drawOnChartArea: false, drawTicks: false },
        ticks: { callback: v => v, color: '#555', font: { size: 5 }, padding: 2, autoSkip: false } })
    } }
  });
}
colorBar(570, 383, 422, 3.75, cd71BarTicks);
colorBar(774, 383, 422, 5, cd35BarTicks);
colorBar(570, 521, 560, 3.67, cd10BarTicks);
colorBar(774, 521, 560, 5.2, cd16BarTicks);

// ---- E
const diffTicks = [-0.025, 0, 0.025];
function trajectory(box, showX, showY, yMin, yMax, yTicks, sets, notes) {
  const xAx = axis(-0.049, 0.0276, showX ? diffTicks : [], v => minus(v.toFixed(3)), 11, { grid: { drawOnChartArea: false, tickLength: 2, color: '#666' } });
  xAx.ticks.color = '#666';
  xAx.ticks.padding = 0;
  const yAx = axis(yMin, yMax, yTicks, showY ? (v => v) : (() => ''), 11, { grid: { drawOnChartArea: false, tickLength: 3, color: '#666' } });
  yAx.ticks.color = '#666';
  scatter(box, [14, 6, 22, 20], xAx, yAx, sets,
    [framePlugin('#888', 1.5), notesPlugin(notes, 'bold 7px "Liberation Sans"', '#333')]);
}
const E_R = 1.2;
trajectory([386, 648, 575, 745], false, true, -0.28, 6.05, [0, 2, 4, 6], [
  poly(e71Green, GREEN), dots(e71GreenDots, GREEN, E_R), poly(e71Orange, ORANGE), dots(e71OrangeDots, ORANGE, E_R),
  poly(e71Cyan, CYAN), dots(e71CyanDots, CYAN, E_R), poly(e71Red, RED), dots(e71RedDots, RED, E_R),
  poly(e71Black, BLACK), dots(e71BlackDots, BLACK, E_R), curve(e71Curve), segments(e71Arrows, '#555', 1)
], e71Notes);
trajectory([585, 648, 774, 745], false, false, -0.28, 6.05, [0, 2, 4, 6], [
  poly(e35Green, GREEN), dots(e35GreenDots, GREEN, E_R), poly(e35Orange, ORANGE), dots(e35OrangeDots, ORANGE, E_R),
  poly(e35Cyan, CYAN), dots(e35CyanDots, CYAN, E_R), poly(e35Red, RED),
  poly(e35Black, BLACK), dots(e35BlackDots, BLACK, E_R), curve(e35Curve), segments(e35Arrows, '#555', 1)
], e35Notes);
trajectory([386, 756, 575, 852], true, true, -0.22, 4.6, [0, 1, 2, 3, 4], [
  poly(e10Green, GREEN), dots(e10GreenDots, GREEN, E_R), poly(e10Orange, ORANGE), dots(e10OrangeDots, ORANGE, E_R),
  poly(e10Cyan, CYAN), dots(e10CyanDots, CYAN, E_R), poly(e10Red, RED),
  poly(e10Black, BLACK), dots(e10BlackDots, BLACK, E_R), curve(e10Curve), segments(e10Arrows, '#555', 1)
], e10Notes);
trajectory([585, 756, 774, 852], true, false, -0.22, 4.6, [0, 1, 2, 3, 4], [
  poly(e16Green, GREEN), dots(e16GreenDots, GREEN, E_R), poly(e16Orange, ORANGE), dots(e16OrangeDots, ORANGE, E_R),
  poly(e16Cyan, CYAN), dots(e16CyanDots, CYAN, E_R), poly(e16Red, RED), dots(e16RedDots, RED, E_R),
  poly(e16Black, BLACK), poly(e16BlackLine, BLACK), dots(e16BlackDots, BLACK, E_R), curve(e16Curve), segments(e16Arrows, '#555', 1)
], e16Notes);

// ---- F
const freqSeries = [[freqN1, BLACK], [freqN2, GREEN], [freqN3, ORANGE], [freqN4, CYAN], [freqN5, RED]];
mount(391, 887, 784, 998, [30, 2, 30, 30], {
  type: 'bar',
  data: {
    labels: donors,
    datasets: freqSeries.map(([values, color]) => ({
      data: values, backgroundColor: color, borderColor: '#1a1a1a', borderWidth: 1, borderSkipped: false,
      barPercentage: 0.85, categoryPercentage: 1, stack: 'a'
    }))
  },
  options: {
    indexAxis: 'y',
    scales: {
      x: axis(0, 1, freqTicks, v => v.toFixed(1), 11.5, { reverse: true, stacked: true,
        grid: { drawOnChartArea: false, tickLength: 8, color: '#444' },
        ticks: { callback: v => v.toFixed(1), color: '#333', font: { size: 11.5 }, padding: 2, autoSkip: false, minRotation: 90, maxRotation: 90 } }),
      y: { stacked: true, display: false }
    }
  },
  plugins: [{ id: 'baseLine', afterDraw(chart) {
    const a = chart.chartArea, g = chart.ctx;
    g.save(); g.strokeStyle = '#444'; g.lineWidth = 1;
    g.beginPath(); g.moveTo(a.left, a.bottom + 3.5); g.lineTo(a.right, a.bottom + 3.5); g.stroke();
    g.restore();
  } }]
});

// ---- page text
const LETTER = '"Open Sans", sans-serif';
text('A.', 12, 8, 20, { family: LETTER, color: '#333' });
text('C.', 481, 12, 20, { family: LETTER, color: '#333' });
text('B.', 19, 336, 20, { family: LETTER, color: '#333' });
text('D.', 353, 335, 20, { family: LETTER, color: '#333' });
text('E.', 358, 634, 20, { family: LETTER, color: '#333' });
text('F', 352, 895, 20, { family: LETTER, color: '#333' });

text('umap1', 8, 143, 17, { rot: -90 });
text('umap2', 242, 300, 17);
text('diffusion_map_1', 680, 292, 16);
text('diffusion_map_2', 487, 145, 16, { rot: -90 });
text('umap1', 367, 460, 17, { rot: -90 });
text('umap2', 575, 615, 17);
text('diffusion_map_1', 585, 878, 17);
text('Frequency', 577, 1040, 17);
text('5 BM donors', 811, 947, 14, { rot: -90 });

[['CD71', 491, 324], ['CD35', 688, 324], ['CD10', 491, 468], ['CD16', 689, 468]].forEach(t =>
  text(t[0], t[1], t[2], 11.5, { weight: 'bold', sx: 1.3, color: '#111' }));
[['CD71', 490, 638], ['CD35', 683, 637], ['CD10', 491, 750], ['CD16', 685, 750]].forEach(t =>
  text(t[0], t[1], t[2], 9.5, { weight: 'bold', sx: 1.15, color: '#222' }));
</script>
</body>
</html>
